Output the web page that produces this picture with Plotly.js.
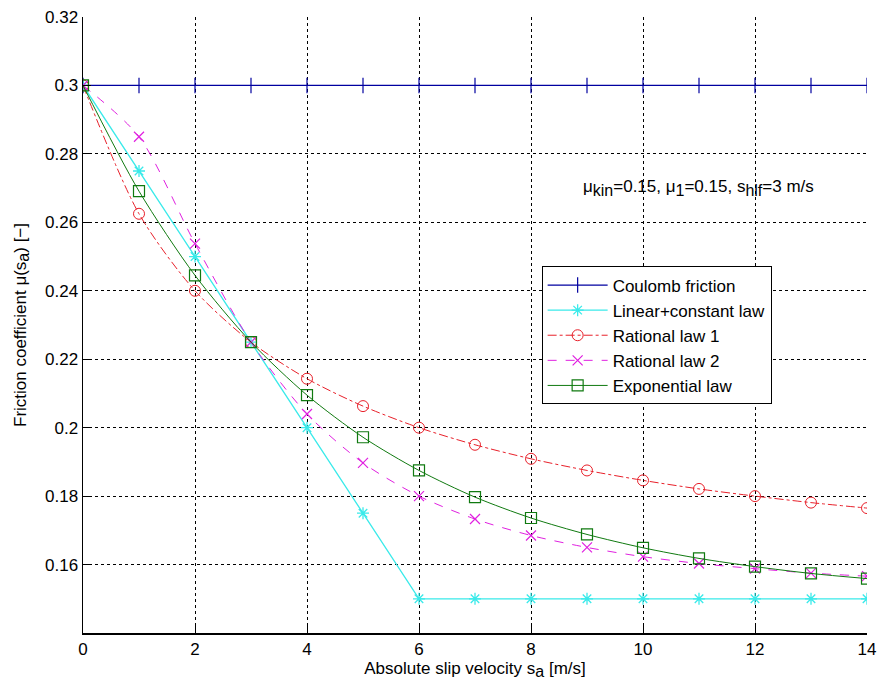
<!DOCTYPE html>
<html>
<head>
<meta charset="utf-8">
<script src="https://cdn.plot.ly/plotly-3.0.1.min.js"></script>
<style>html,body{margin:0;padding:0;background:#fff;}#chart{width:889px;height:694px;}</style>
</head>
<body>
<div id="chart"></div>
<script>
// Data
var slip = [0,1,2,3,4,5,6,7,8,9,10,11,12,13,14];
var coulomb = [0.3,0.3,0.3,0.3,0.3,0.3,0.3,0.3,0.3,0.3,0.3,0.3,0.3,0.3,0.3];
var linearConst = [0.3,0.275,0.25,0.225,0.2,0.175,0.15,0.15,0.15,0.15,0.15,0.15,0.15,0.15,0.15];
var rational1 = [0.3,0.2625,0.24,0.225,0.2143,0.2063,0.2,0.195,0.1909,0.1875,0.1846,0.1821,0.18,0.1781,0.1765];
var rational2 = [0.3,0.285,0.2538,0.225,0.204,0.1897,0.18,0.1733,0.1685,0.165,0.1623,0.1603,0.1588,0.1575,0.1566];
var exponential = [0.3,0.2691,0.2445,0.225,0.2095,0.1972,0.1875,0.1797,0.1736,0.1688,0.1649,0.1618,0.1594,0.1574,0.1559];
var seriesNames = ["Coulomb friction","Linear+constant law","Rational law 1","Rational law 2","Exponential law"];
var xTickVals = [0,2,4,6,8,10,12,14];
var xTickText = ["0","2","4","6","8","10","12","14"];
var yTickVals = [0.14,0.16,0.18,0.2,0.22,0.24,0.26,0.28,0.3,0.32];
var yTickText = ["","0.16","0.18","0.2","0.22","0.24","0.26","0.28","0.3","0.32"];

var FONT = "Liberation Sans, Arial, sans-serif";
var FS = 17;
function sub(t) { return "<sub><span style=\"font-size:" + (FS - 1) + "px\">" + t + "</span></sub>"; }

var traces = [
  {x: slip, y: coulomb, name: seriesNames[0], mode: "lines+markers",
   line: {color: "#0000a0", width: 1.2},
   marker: {symbol: "line-ns-open", size: 11, line: {color: "#0000a0", width: 1.2}}},
  {x: slip, y: linearConst, name: seriesNames[1], mode: "lines+markers",
   line: {color: "#3aeaea", width: 1.3},
   marker: {symbol: "asterisk-open", size: 10, line: {color: "#3aeaea", width: 1.3}}},
  {x: slip, y: rational1, name: seriesNames[2], mode: "lines+markers",
   line: {color: "#e8202a", width: 1, dash: "dashdot", shape: "spline", smoothing: 0.8},
   marker: {symbol: "circle-open", size: 11, color: "#e8202a", line: {color: "#e8202a", width: 1}}},
  {x: slip, y: rational2, name: seriesNames[3], mode: "lines+markers",
   line: {color: "#e020e0", width: 1, dash: "dash", shape: "spline", smoothing: 0.8},
   marker: {symbol: "x-thin-open", size: 10, line: {color: "#e020e0", width: 1.2}}},
  {x: slip, y: exponential, name: seriesNames[4], mode: "lines+markers",
   line: {color: "#107a10", width: 1, shape: "spline", smoothing: 0.8},
   marker: {symbol: "square-open", size: 11, color: "#107a10", line: {color: "#107a10", width: 1.2}}}
];

var layout = {
  width: 889, height: 694,
  margin: {l: 83, r: 22, t: 17, b: 61},
  paper_bgcolor: "#fff", plot_bgcolor: "#fff",
  font: {family: FONT, size: FS, color: "#000"},
  showlegend: true,
  legend: {x: 0.585, y: 0.595, xanchor: "left", yanchor: "top",
           bgcolor: "#fff", bordercolor: "#000", borderwidth: 1,
           font: {family: FONT, size: FS, color: "#000"}, itemwidth: 60,
           tracegroupgap: 0},
  xaxis: {range: [0, 14], tickvals: xTickVals, ticktext: xTickText,
          showline: true, linecolor: "#000", linewidth: 1.5, mirror: false,
          ticks: "inside", ticklen: 8, tickcolor: "#000",
          showgrid: true, gridcolor: "#000", griddash: "dot", gridwidth: 1,
          zeroline: false, tickfont: {size: FS},
          title: {text: "Absolute slip velocity s" + sub("a") + " [m/s]", font: {size: FS}, standoff: 2}},
  yaxis: {range: [0.14, 0.32], tickvals: yTickVals, ticktext: yTickText,
          showline: true, linecolor: "#000", linewidth: 1.5, mirror: false,
          ticks: "inside", ticklen: 8, tickcolor: "#000",
          showgrid: true, gridcolor: "#000", griddash: "dot", gridwidth: 1,
          zeroline: false, tickfont: {size: FS},
          title: {text: "Friction coefficient μ(s" + sub("a") + ") [−]", font: {size: FS}, standoff: 14}},
  annotations: [{
    x: 8.9, y: 0.27, xref: "x", yref: "y", xanchor: "left", yanchor: "middle",
    showarrow: false, font: {family: FONT, size: FS, color: "#000"},
    text: "μ" + sub("kin") + "=0.15, μ" + sub("1") + "=0.15, s" + sub("hlf") + "=3 m/s"
  }]
};

Plotly.newPlot("chart", traces, layout, {displayModeBar: false, staticPlot: true});
</script>
</body>
</html>
